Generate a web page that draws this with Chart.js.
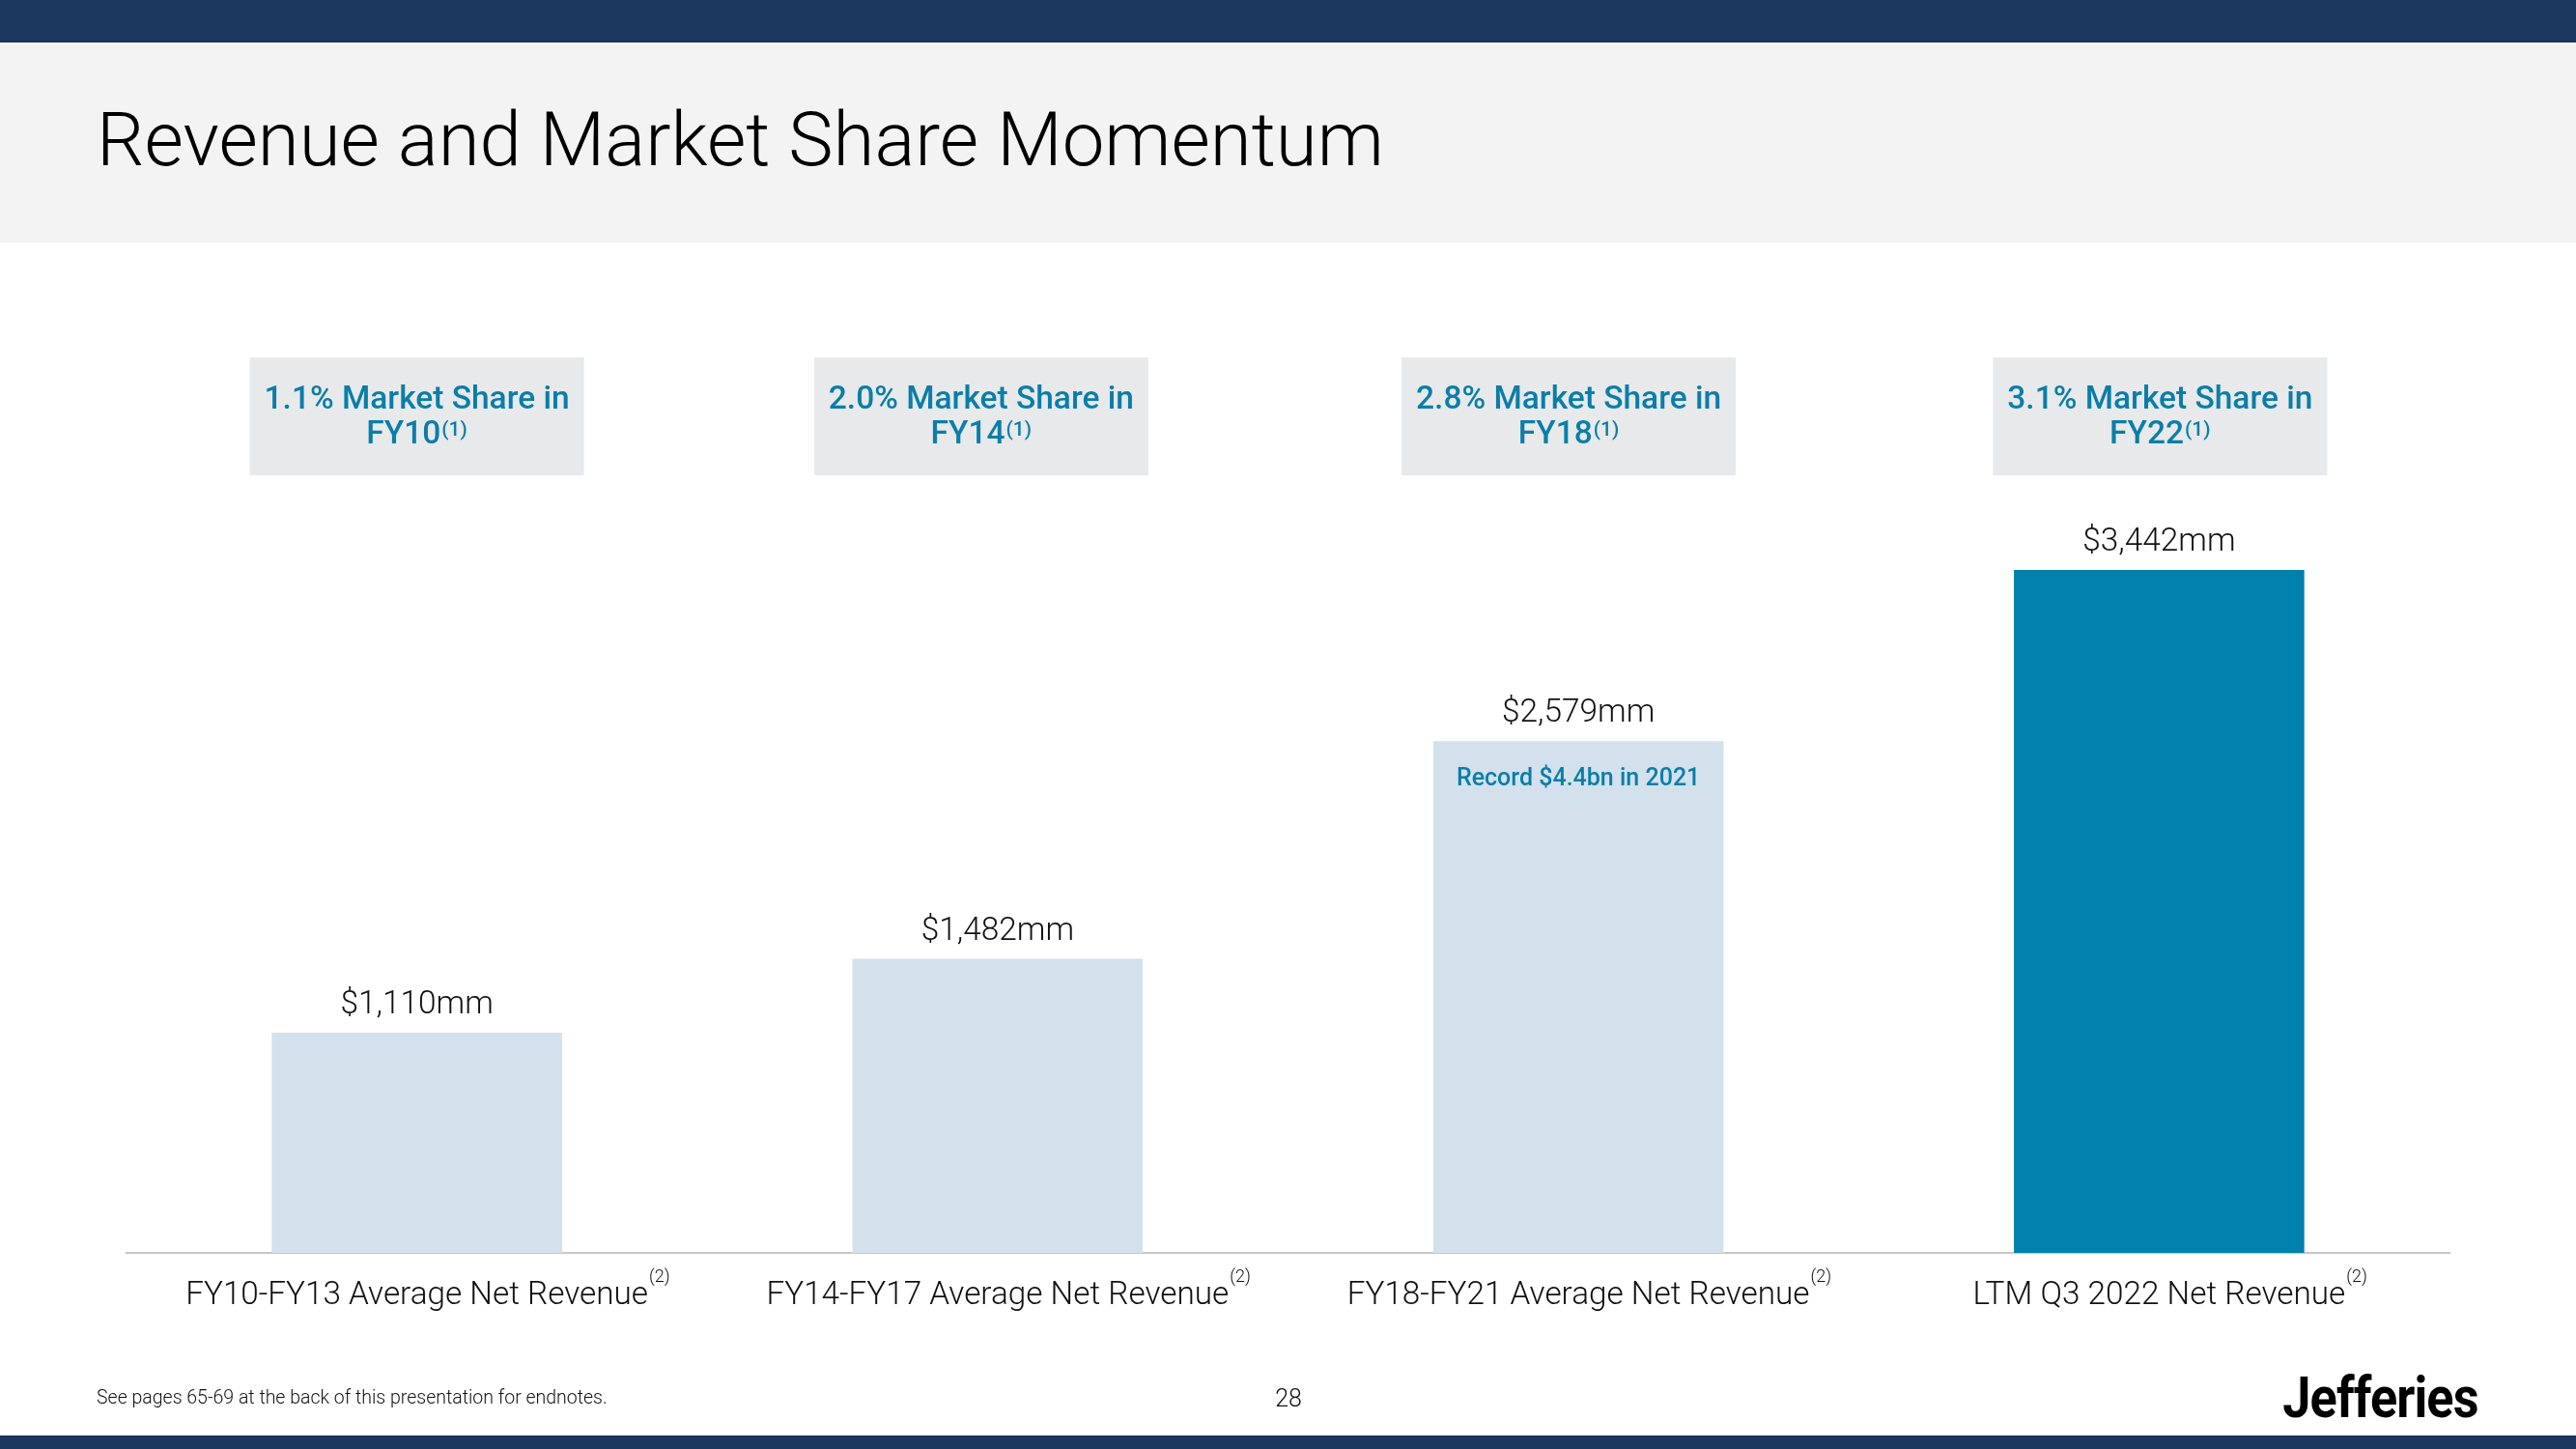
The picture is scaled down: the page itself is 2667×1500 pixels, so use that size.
<!DOCTYPE html>
<html>
<head>
<meta charset="utf-8">
<script src="https://cdn.jsdelivr.net/npm/chart.js@4/dist/chart.umd.min.js"></script>
<style>
  html, body { margin:0; padding:0; background:#ffffff; }
  body { width:2667px; height:1500px; position:relative; overflow:hidden; font-family:Roboto, "Noto Sans", sans-serif; }
  .abs { position:absolute; white-space:nowrap; }
  #topbar { left:0; top:0; width:2667px; height:44px; background:#1b365d; }
  #header { left:0; top:44px; width:2667px; height:207px; background:#f3f3f3; }
  #title { left:100px; top:106px; font-size:78px; line-height:78px; font-weight:300; color:#000; }
  #foot { left:100px; top:1437px; font-size:19.5px; line-height:19.5px; font-weight:300; color:#111; }
  #page { left:1309px; width:50px; text-align:center; top:1435px; font-size:25px; line-height:25px; font-weight:300; color:#111; }
  #logo { right:101px; top:1417px; font-size:59px; line-height:59px; font-weight:700; color:#000; transform:scaleX(0.885); transform-origin:right center; letter-spacing:-1px; }
  #botbar { left:0; top:1486px; width:2667px; height:14px; background:#1b365d; }
  #c { position:absolute; left:0; top:0; }
</style>
</head>
<body>
<div id="topbar" class="abs"></div>
<div id="header" class="abs"></div>
<div id="title" class="abs">Revenue and Market Share Momentum</div>
<canvas id="c" width="2667" height="1500"></canvas>
<div id="foot" class="abs">See pages 65-69 at the back of this presentation for endnotes.</div>
<div id="page" class="abs">28</div>
<div id="logo" class="abs">Jefferies</div>
<div id="botbar" class="abs"></div>
<script>
// ---- data ----
const categories = ["FY10-FY13 Average Net Revenue", "FY14-FY17 Average Net Revenue", "FY18-FY21 Average Net Revenue", "LTM Q3 2022 Net Revenue"];
const categoryNotes = ["(2)", "(2)", "(2)", "(2)"];
const revenue = [1110, 1482, 2579, 3442];
const valueLabels = ["$1,110mm", "$1,482mm", "$2,579mm", "$3,442mm"];
const shareLine1 = ["1.1% Market Share in", "2.0% Market Share in", "2.8% Market Share in", "3.1% Market Share in"];
const shareLine2 = ["FY10", "FY14", "FY18", "FY22"];
const shareNotes = ["(1)", "(1)", "(1)", "(1)"];
const barNotes = ["", "", "Record $4.4bn in 2021", ""];

// ---- styles ----
const LIGHT = "#d3e1ec", DARK = "#0081ad", TEAL = "#0a7ea8", BOXBG = "#e8e9eb";
const barColors = [LIGHT, LIGHT, LIGHT, DARK];
const boxOffsets = [0, -17, -10, 1];
const FONT = "Roboto, 'Noto Sans', sans-serif";

const annotate = {
  id: "annotate",
  afterDatasetsDraw(chart) {
    const ctx = chart.ctx;
    const meta = chart.getDatasetMeta(0);
    const area = chart.chartArea;
    ctx.save();
    ctx.textBaseline = "alphabetic";
    meta.data.forEach((bar, i) => {
      const x = bar.x;
      // value label
      ctx.fillStyle = "#111";
      ctx.font = "300 33.4px " + FONT;
      ctx.textAlign = "center";
      ctx.fillText(valueLabels[i], x, bar.y - 20);
      // note inside bar
      if (barNotes[i]) {
        ctx.fillStyle = TEAL;
        ctx.font = "500 25px " + FONT;
        ctx.fillText(barNotes[i], x, bar.y + 46);
      }
      // category label with superscript
      ctx.fillStyle = "#111";
      ctx.font = "300 33.3px " + FONT;
      ctx.textAlign = "center";
      const w = ctx.measureText(categories[i]).width;
      ctx.fillText(categories[i], x, area.bottom + 53);
      ctx.font = "300 18px " + FONT;
      ctx.textAlign = "left";
      ctx.fillText(categoryNotes[i], x + w / 2 + 1, area.bottom + 30);
      // market share box
      const bx = x + boxOffsets[i];
      ctx.fillStyle = BOXBG;
      ctx.fillRect(bx - 173, 370, 346, 122);
      ctx.fillStyle = TEAL;
      ctx.font = "500 33.5px " + FONT;
      ctx.textAlign = "center";
      ctx.fillText(shareLine1[i], bx, 423);
      const w2 = ctx.measureText(shareLine2[i]).width;
      ctx.font = "500 21px " + FONT;
      const s2 = ctx.measureText(shareNotes[i]).width;
      const start = bx - (w2 + s2 + 1) / 2;
      ctx.textAlign = "left";
      ctx.font = "500 33.5px " + FONT;
      ctx.fillText(shareLine2[i], start, 459);
      ctx.font = "500 21px " + FONT;
      ctx.fillText(shareNotes[i], start + w2 + 1, 451);
    });
    ctx.restore();
  }
};

new Chart(document.getElementById("c"), {
  type: "bar",
  data: {
    labels: categories,
    datasets: [{ data: revenue, backgroundColor: barColors, borderWidth: 0, categoryPercentage: 1.0, barPercentage: 0.5 }]
  },
  options: {
    responsive: false,
    animation: false,
    layout: { padding: { left: 131, right: 131, top: 270, bottom: 203 } },
    plugins: { legend: { display: false }, tooltip: { enabled: false }, title: { display: false } },
    scales: {
      x: {
        display: true,
        grid: { display: false, drawTicks: false },
        border: { display: true, color: "#c8c8c8", width: 2 },
        ticks: { display: false }
      },
      y: { display: false, min: 0, max: 5000 }
    }
  },
  plugins: [annotate]
});
</script>
</body>
</html>
